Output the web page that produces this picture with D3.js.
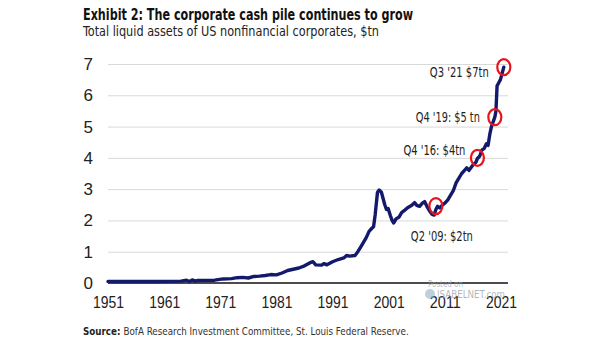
<!DOCTYPE html>
<html>
<head>
<meta charset="utf-8">
<script src="https://cdn.jsdelivr.net/npm/d3@7"></script>
<style>
body{margin:0;background:#fff;}
svg{display:block;font-family:'Liberation Sans Narrow','DejaVu Sans Condensed',sans-serif;}
.grid line{stroke:#d9d9d9;stroke-width:1px;}
.grid path{display:none;}
.axis path,.axis line{display:none;}
.axis text{fill:#222;}
</style>
</head>
<body>
<svg width="605" height="341"></svg>
<script>
// Total liquid assets, $tn
var years = [1951,1955,1960,1964,1965,1965.5,1966,1966.5,1967,1970,1971.5,1973,1974,1975,1976,1977,1978,1979,1980,1981,1982,1983,1984,1985,1986,1987,1987.5,1988,1989,1989.5,1990,1991,1992,1993,1993.5,1994,1995,1995.5,1996,1996.5,1997,1997.5,1998,1998.3,1998.6,1999,1999.3,1999.7,2000,2000.3,2000.6,2000.9,2001.3,2001.6,2001.9,2002.3,2002.8,2003.3,2003.8,2004.3,2004.8,2005.2,2005.6,2006,2006.5,2007,2007.4,2007.8,2008.3,2008.7,2009.1,2009.4,2009.7,2010.1,2010.6,2011,2011.5,2012,2012.5,2013,2013.5,2014,2014.5,2014.9,2015.3,2015.7,2016,2016.5,2016.8,2017.2,2017.6,2018,2018.4,2018.7,2019,2019.3,2019.6,2019.9,2020.1,2020.3,2020.6,2020.9,2021.2,2021.5];
var assets = [0.05,0.05,0.05,0.06,0.09,0.05,0.1,0.06,0.08,0.09,0.13,0.14,0.17,0.18,0.16,0.21,0.22,0.24,0.27,0.26,0.32,0.4,0.44,0.48,0.55,0.65,0.68,0.58,0.57,0.62,0.58,0.68,0.75,0.8,0.88,0.86,0.88,1.0,1.15,1.3,1.45,1.65,1.75,1.8,2.2,2.9,2.97,2.9,2.7,2.5,2.35,2.38,2.15,2.0,1.92,2.05,2.1,2.25,2.32,2.4,2.45,2.5,2.57,2.48,2.45,2.55,2.6,2.45,2.3,2.2,2.17,2.35,2.45,2.4,2.5,2.55,2.65,2.8,2.95,3.2,3.35,3.5,3.6,3.68,3.6,3.7,3.77,3.85,3.98,4.05,4.25,4.3,4.45,4.4,4.75,5.0,5.15,5.3,5.5,6.3,6.4,6.5,6.7,6.9];

var xTicks = [1951,1961,1971,1981,1991,2001,2011,2021];
var yTicks = [0,1,2,3,4,5,6,7];

// Highlighted quarters
var callouts = ["Q2 '09: $2tn","Q4 '16: $4tn","Q4 '19: $5 tn","Q3 '21 $7tn"];
var calloutYears = [2009.4,2016.8,2019.9,2021.5];
var calloutValues = [2.46,4.0,5.3,6.9];

var svg = d3.select('svg');
var svgWidth = +svg.attr('width');

var x = d3.scaleLinear().domain([1951,2021]).range([108,501]);
var y = d3.scaleLinear().domain([0,7]).range([283,64]);

//Title + subtitle (squeezed to match the condensed original face)
svg.append('text')
    .attr('x',83)
    .attr('y',20)
    .attr('textLength',330)
    .attr('lengthAdjust','spacingAndGlyphs')
    .style('font-weight','bold')
    .style('font-size','15px')
    .style('fill','#111')
    .text('Exhibit 2: The corporate cash pile continues to grow');
svg.append('text')
    .attr('x',83)
    .attr('y',36)
    .attr('textLength',296)
    .attr('lengthAdjust','spacingAndGlyphs')
    .style('font-size','14px')
    .style('fill','#222')
    .text('Total liquid assets of US nonfinancial corporates, $tn');

//Gridlines
svg.append('g')
    .attr('class','grid')
    .attr('transform','translate(108,0)')
    .call(d3.axisLeft(y).tickValues(yTicks.slice(1)).tickSize(-400).tickFormat(''));

//Y labels
svg.append('g')
    .attr('class','axis')
    .attr('transform','translate(108,0)')
    .call(d3.axisLeft(y).tickValues(yTicks).tickSize(0).tickPadding(15).tickFormat(d3.format('d')))
    .selectAll('text')
    .style('font-size','17px');

//X labels
svg.append('g')
    .attr('class','axis')
    .attr('transform','translate(0,'+y(0)+')')
    .call(d3.axisBottom(x).tickValues(xTicks).tickSize(0).tickPadding(13).tickFormat(d3.format('d')))
    .selectAll('text')
    .attr('textLength',31)
    .attr('lengthAdjust','spacingAndGlyphs')
    .style('font-size','16.5px');

//Baseline
svg.append('line')
    .attr('x1',x(1951))
    .attr('x2',x(1951)+400)
    .attr('y1',y(0))
    .attr('y2',y(0))
    .style('stroke','#111')
    .style('stroke-width','1.5px');

//Watermark
svg.append('text')
    .attr('x',428)
    .attr('y',287)
    .attr('textLength',35)
    .attr('lengthAdjust','spacingAndGlyphs')
    .style('font-size','9.5px')
    .style('fill','#9aa0a8')
    .style('fill-opacity','0.75')
    .text('Posted on');
svg.append('circle')
    .attr('cx',430)
    .attr('cy',294)
    .attr('r',5)
    .style('fill','#8fb3c9')
    .style('fill-opacity','0.6');
svg.append('text')
    .attr('x',437)
    .attr('y',298)
    .attr('textLength',68)
    .attr('lengthAdjust','spacingAndGlyphs')
    .style('font-size','11px')
    .style('fill','#9aa0a8')
    .style('fill-opacity','0.75')
    .text('ISABELNET.com');

//The series
var data = years.map(function(d,i){ return {year:d, value:assets[i]}; });
var line = d3.line()
    .x(function(d){ return x(d.year); })
    .y(function(d){ return y(d.value); });

svg.append('path')
    .datum(data)
    .attr('d',line)
    .style('fill','none')
    .style('stroke','#141a6b')
    .style('stroke-width','3.4px')
    .style('stroke-linejoin','round')
    .style('stroke-linecap','round');

//Red rings
svg.selectAll('.ring')
    .data(calloutYears)
    .enter()
    .append('ellipse')
    .attr('class','ring')
    .attr('cx',function(d){ return x(d); })
    .attr('cy',function(d,i){ return y(calloutValues[i]); })
    .attr('rx',6.5)
    .attr('ry',8)
    .style('fill','none')
    .style('stroke','#e8141c')
    .style('stroke-width','2.2px');

//Callout labels (dx/dy relative to each ring)
var labelDx = [6,-12,-15,-15];
var labelDy = [35,-3,5,10];
var labelWidth = [62,62,64,59];
var labelAnchor = ['middle','end','end','end'];
svg.selectAll('.callout')
    .data(callouts)
    .enter()
    .append('text')
    .attr('class','callout')
    .attr('x',function(d,i){ return x(calloutYears[i])+labelDx[i]; })
    .attr('y',function(d,i){ return y(calloutValues[i])+labelDy[i]; })
    .attr('text-anchor',function(d,i){ return labelAnchor[i]; })
    .attr('textLength',function(d,i){ return labelWidth[i]; })
    .attr('lengthAdjust','spacingAndGlyphs')
    .style('font-size','14px')
    .style('fill','#222')
    .text(function(d){ return d; });

//Source, one text squeezed horizontally to the original width
var srcG = svg.append('g');
var src = srcG.append('text')
    .style('font-size','11px')
    .style('fill','#333');
src.append('tspan')
    .style('font-weight','bold')
    .style('fill','#222')
    .text('Source: ');
src.append('tspan')
    .text('BofA Research Investment Committee, St. Louis Federal Reserve.');
var srcLen = src.node().getComputedTextLength();
srcG.attr('transform','translate(83,335) scale('+(326/srcLen)+',1)');
</script>
</body>
</html>
